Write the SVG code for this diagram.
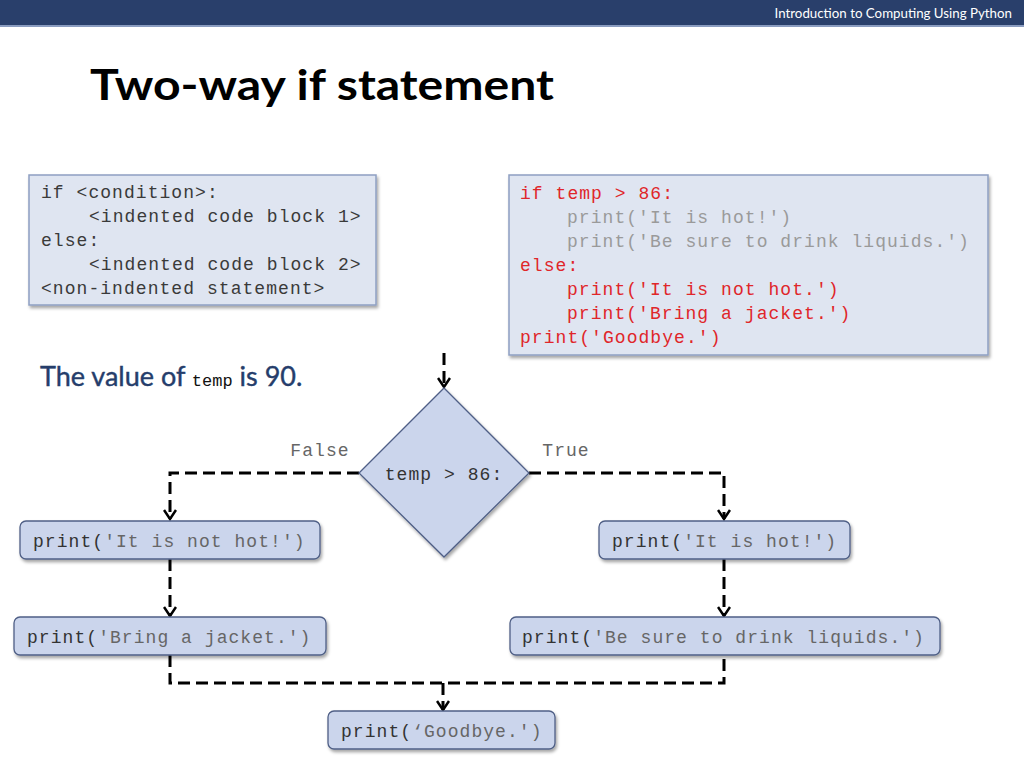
<svg xmlns="http://www.w3.org/2000/svg" width="1024" height="768" viewBox="0 0 1024 768">
<defs>
<filter id="sh" x="-10%" y="-10%" width="125%" height="140%">
<feDropShadow dx="1.5" dy="2.5" stdDeviation="1.5" flood-color="#000" flood-opacity="0.35"/>
</filter>
<marker id="ah" viewBox="0 0 14 14" refX="12" refY="7" markerWidth="14" markerHeight="14" markerUnits="userSpaceOnUse" orient="auto">
<path d="M3,1 L12,7 L3,13" fill="none" stroke="#000" stroke-width="2.5"/>
</marker>
</defs>
<style>
.mono{font-family:"Liberation Mono","Courier New",monospace;font-size:18px;letter-spacing:1.05px}
.code{fill:#3a3a3a}
.red{fill:#e0262a}
.gray{fill:#9a9a9a}
.dk{fill:#333}
.lt{fill:#666}
.cbox{fill:#dfe5f1;stroke:#8e9fc2;stroke-width:1.5}
.node{fill:#cbd5ec;stroke:#4f5f86;stroke-width:1.3}
.conn{fill:none;stroke:#000;stroke-width:3;stroke-dasharray:12 6}
</style>
<rect x="0" y="0" width="1024" height="25" fill="#293f6b"/>
<rect x="0" y="25" width="1024" height="2" fill="#8a9cc0"/>
<text x="1012" y="18" text-anchor="end" font-family="Lato, 'Open Sans', sans-serif" font-size="13.3" fill="#fff">Introduction to Computing Using Python</text>
<text x="90" y="100" font-family="Lato, 'Open Sans', sans-serif" font-weight="bold" font-size="42" fill="#000" textLength="464" lengthAdjust="spacingAndGlyphs">Two-way if statement</text>

<g id="syntax">
<rect class="cbox" x="29" y="175" width="347" height="130" filter="url(#sh)"/>
<text class="mono code" x="41" y="198">if &lt;condition&gt;:</text>
<text class="mono code" x="89" y="222">&lt;indented code block 1&gt;</text>
<text class="mono code" x="41" y="246">else:</text>
<text class="mono code" x="89" y="270">&lt;indented code block 2&gt;</text>
<text class="mono code" x="41" y="294">&lt;non-indented statement&gt;</text>
</g>

<g id="example">
<rect class="cbox" x="509" y="175" width="479" height="180" filter="url(#sh)"/>
<text class="mono red" x="520" y="199">if temp &gt; 86:</text>
<text class="mono gray" x="567" y="223">print('It is hot!')</text>
<text class="mono gray" x="567" y="247">print('Be sure to drink liquids.')</text>
<text class="mono red" x="520" y="271">else:</text>
<text class="mono red" x="567" y="295">print('It is not hot.')</text>
<text class="mono red" x="567" y="319">print('Bring a jacket.')</text>
<text class="mono red" x="520" y="343">print('Goodbye.')</text>
</g>

<text x="40" y="386" font-family="Lato, 'Open Sans', sans-serif" font-size="27" fill="#253d6b" stroke="#253d6b" stroke-width="0.4">The value of <tspan font-family="'Liberation Mono', monospace" font-size="17" fill="#111" stroke="none">temp</tspan> is 90.</text>

<g id="connectors">
<path class="conn" d="M444,353 V387" marker-end="url(#ah)"/>
<path class="conn" d="M359,473 H170 V519" marker-end="url(#ah)"/>
<path class="conn" d="M529,473 H724 V519" marker-end="url(#ah)"/>
<path class="conn" d="M170,559 V616" marker-end="url(#ah)"/>
<path class="conn" d="M724,559 V616" marker-end="url(#ah)"/>
<path class="conn" d="M170,655 V683 H724 V655"/>
<path class="conn" d="M443,683 V710" stroke-dasharray="none" marker-end="url(#ah)"/>
<text class="mono lt" x="320" y="456" text-anchor="middle">False</text>
<text class="mono lt" x="566" y="456" text-anchor="middle">True</text>
</g>

<g id="cond">
<polygon class="node" points="444,388 529,473 444,557 359,473" filter="url(#sh)"/>
<text class="mono dk" x="444" y="480" text-anchor="middle">temp &gt; 86:</text>
</g>

<g id="nothot">
<rect class="node" x="20" y="521" width="300" height="38" rx="6" filter="url(#sh)"/>
<text class="mono" x="33" y="547"><tspan class="dk">print(</tspan><tspan class="lt">'It is not hot!')</tspan></text>
</g>
<g id="hot">
<rect class="node" x="599" y="521" width="251" height="38" rx="6" filter="url(#sh)"/>
<text class="mono" x="612" y="547"><tspan class="dk">print(</tspan><tspan class="lt">'It is hot!')</tspan></text>
</g>
<g id="jacket">
<rect class="node" x="14" y="617" width="312" height="38" rx="6" filter="url(#sh)"/>
<text class="mono" x="27" y="643"><tspan class="dk">print(</tspan><tspan class="lt">'Bring a jacket.')</tspan></text>
</g>
<g id="liquids">
<rect class="node" x="510" y="617" width="430" height="38" rx="6" filter="url(#sh)"/>
<text class="mono" x="522" y="643"><tspan class="dk">print(</tspan><tspan class="lt">'Be sure to drink liquids.')</tspan></text>
</g>
<g id="goodbye">
<rect class="node" x="328" y="711" width="227" height="38" rx="6" filter="url(#sh)"/>
<text class="mono" x="341" y="737"><tspan class="dk">print(</tspan><tspan class="lt">‘Goodbye.')</tspan></text>
</g>
</svg>
